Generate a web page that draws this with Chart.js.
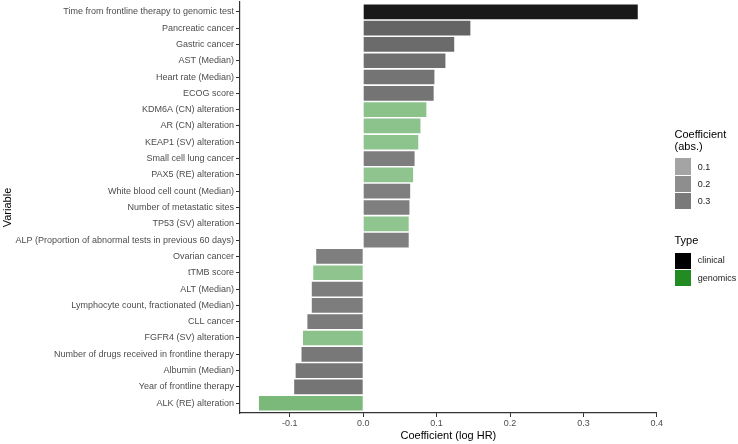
<!DOCTYPE html>
<html><head><meta charset="utf-8">
<script src="https://cdn.jsdelivr.net/npm/chart.js@4.4.1/dist/chart.umd.min.js"></script>
<style>
body{margin:0;background:#fff;font-family:"Liberation Sans",Arial,sans-serif;}
#wrap{position:relative;width:738px;height:444px;overflow:hidden;}
canvas{position:absolute;left:0;top:0;}
.lt{position:absolute;white-space:nowrap;line-height:1;color:#000;}
.sw{position:absolute;}
</style></head><body>
<div id="wrap"><canvas id="c" width="738" height="444"></canvas><div id="legend"></div></div>
<script>
const variables = [
  "Time from frontline therapy to genomic test",
  "Pancreatic cancer",
  "Gastric cancer",
  "AST (Median)",
  "Heart rate (Median)",
  "ECOG score",
  "KDM6A (CN) alteration",
  "AR (CN) alteration",
  "KEAP1 (SV) alteration",
  "Small cell lung cancer",
  "PAX5 (RE) alteration",
  "White blood cell count (Median)",
  "Number of metastatic sites",
  "TP53 (SV) alteration",
  "ALP (Proportion of abnormal tests in previous 60 days)",
  "Ovarian cancer",
  "tTMB score",
  "ALT (Median)",
  "Lymphocyte count, fractionated (Median)",
  "CLL cancer",
  "FGFR4 (SV) alteration",
  "Number of drugs received in frontline therapy",
  "Albumin (Median)",
  "Year of frontline therapy",
  "ALK (RE) alteration"
];
const coefficients = [
  0.374, 0.146, 0.124, 0.112, 0.097, 0.096, 0.086, 0.078, 0.075, 0.070,
  0.068, 0.064, 0.063, 0.062, 0.062, -0.064, -0.068, -0.070, -0.070, -0.076,
  -0.082, -0.084, -0.092, -0.094, -0.142
];
const types = [
  "clinical","clinical","clinical","clinical","clinical","clinical",
  "genomics","genomics","genomics","clinical","genomics","clinical",
  "clinical","genomics","clinical","clinical","genomics","clinical",
  "clinical","clinical","genomics","clinical","clinical","clinical","genomics"
];
const xTickValues = [-0.1, 0.0, 0.1, 0.2, 0.3, 0.4];
const alphaBreaks = [0.1, 0.2, 0.3];
const typeLevels = ["clinical", "genomics"];

const FONT = '"Liberation Sans", Arial, sans-serif';
const typeRGB = { clinical: [0,0,0], genomics: [34,139,34] };
const absVals = coefficients.map(Math.abs);
const aMin = Math.min(...absVals), aMax = Math.max(...absVals);
const alphaOf = v => 0.5 + 0.4 * (Math.abs(v) - aMin) / (aMax - aMin);
const rgba = (c, a) => `rgba(${c[0]},${c[1]},${c[2]},${a})`;

const dMin = Math.min(...coefficients), dMax = Math.max(...coefficients);
const span = dMax - dMin;
const xMin = dMin - 0.05 * span, xMax = dMax + 0.05 * span;

Chart.defaults.font.family = FONT;

new Chart(document.getElementById('c'), {
  type: 'bar',
  data: {
    datasets: [{
      data: coefficients.map((v, i) => ({ x: v, y: i })),
      backgroundColor: coefficients.map((v, i) => rgba(typeRGB[types[i]], alphaOf(v))),
      borderWidth: 0,
      barPercentage: 0.9,
      categoryPercentage: 1.0
    }]
  },
  options: {
    indexAxis: 'y',
    responsive: false,
    animation: false,
    events: [],
    layout: { padding: { left: 0, top: 2, right: 81.3, bottom: 0 } },
    plugins: { legend: { display: false }, tooltip: { enabled: false } },
    scales: {
      x: {
        type: 'linear', min: xMin, max: xMax, bounds: 'data', offset: false,
        afterBuildTicks: s => { s.ticks = xTickValues.map(v => ({ value: v })); },
        afterFit: s => { s.height = 31; s.paddingLeft = 0; s.paddingRight = 0; },
        ticks: { callback: v => Number(v).toFixed(1), color: '#4d4d4d', font: { size: 9 }, padding: 1, maxRotation: 0, autoSkip: false },
        grid: { display: true, offset: false, drawOnChartArea: false, drawTicks: true, tickLength: 4, tickColor: '#333', tickWidth: 1 },
        border: { display: true, color: '#333', width: 1.2 },
        title: { display: true, text: 'Coefficient (log HR)', color: '#000', font: { size: 11 }, padding: { top: 0, bottom: 1.4 } }
      },
      y: {
        type: 'linear', reverse: true, min: -0.6, max: variables.length - 1 + 0.6, bounds: 'data', offset: false,
        afterBuildTicks: s => { s.ticks = variables.map((_, i) => ({ value: i })); },
        afterFit: s => { s.width = 240; s.paddingTop = 0; s.paddingBottom = 0; },
        ticks: { callback: v => variables[v], color: '#4d4d4d', font: { size: 9 }, padding: 2, autoSkip: false },
        grid: { display: true, offset: false, drawOnChartArea: false, drawTicks: true, tickLength: 4, tickColor: '#333', tickWidth: 1 },
        border: { display: true, color: '#333', width: 1.2 },
        title: { display: true, text: 'Variable', color: '#000', font: { size: 11 }, padding: { top: 1.4, bottom: 0 } }
      }
    }
  }
});

// Legend (HTML text)
const lg = document.getElementById('legend');
function addText(txt, left, top, size, color) {
  const d = document.createElement('div');
  d.className = 'lt'; d.textContent = txt;
  d.style.left = left + 'px'; d.style.top = top + 'px';
  d.style.fontSize = size + 'px'; if (color) d.style.color = color;
  lg.appendChild(d);
}
function addSwatch(left, top, color) {
  const d = document.createElement('div');
  d.className = 'sw';
  d.style.left = left + 'px'; d.style.top = top + 'px';
  d.style.width = '16.6px'; d.style.height = '16.6px';
  d.style.background = color;
  lg.appendChild(d);
}
const LX = 674.5, TX = 697.7;
addText('Coefficient', LX, 129, 11);
addText('(abs.)', LX, 140.7, 11);
alphaBreaks.forEach((b, k) => {
  const top = 158.3 + k * 17.3;
  addSwatch(LX, top, rgba([89,89,89], alphaOf(b)));
  addText(b.toFixed(1), TX, top + 4.2, 9, '#222');
});
addText('Type', LX, 234.7, 11);
typeLevels.forEach((t, k) => {
  const top = 252.5 + k * 17.3;
  addSwatch(LX, top, rgba(typeRGB[t], 1));
  addText(t, TX, top + 3.8, 9, '#222');
});
</script>
</body></html>
